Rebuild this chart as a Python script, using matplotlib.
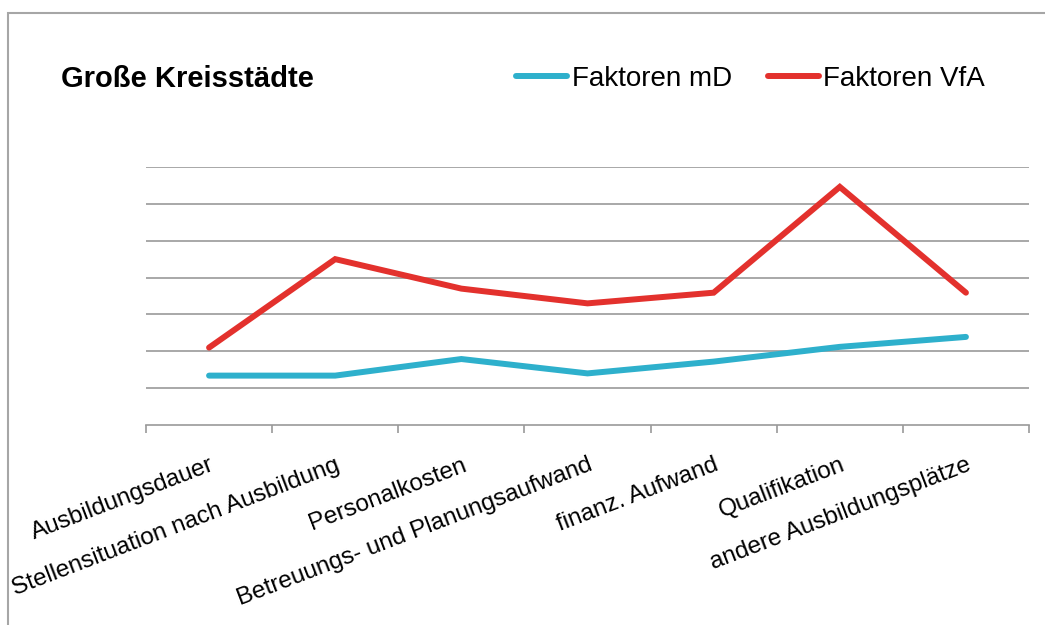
import matplotlib.pyplot as plt
from matplotlib.patches import Rectangle

plt.rcParams['font.family'] = ['Liberation Sans', 'DejaVu Sans']

# Kategorien und Werte der beiden Faktorreihen
kategorien = ['Ausbildungsdauer', 'Stellensituation nach Ausbildung', 'Personalkosten',
              'Betreuungs- und Planungsaufwand', 'finanz. Aufwand', 'Qualifikation',
              'andere Ausbildungsplätze']
faktoren_md = [1.34, 1.34, 1.79, 1.40, 1.72, 2.12, 2.39]
faktoren_vfa = [2.10, 4.50, 3.70, 3.30, 3.59, 6.46, 3.59]

blau = '#2EB0CC'
rot = '#E3312D'
grau = '#9A9A9A'

fig = plt.figure(figsize=(10.45, 6.25), dpi=100)

# Rahmen um das Diagramm (nur oben und links sichtbar)
fig.patches.append(Rectangle((8 / 1045, -0.1), 1.2, 1.1 - 13 / 625, transform=fig.transFigure,
                             fill=False, edgecolor='#A6A6A6', linewidth=1.5))

ax = fig.add_axes([146 / 1045, 1 - 425 / 625, (1029 - 146) / 1045, (425 - 167) / 625])

x = range(len(kategorien))
ax.plot(x, faktoren_md, color=blau, linewidth=4.3, solid_capstyle='round',
        solid_joinstyle='miter', label='Faktoren mD', zorder=3)
ax.plot(x, faktoren_vfa, color=rot, linewidth=4.3, solid_capstyle='round',
        solid_joinstyle='miter', label='Faktoren VfA', zorder=3)

ax.set_xlim(-0.5, len(kategorien) - 0.5)
ax.set_ylim(0, 7)

# horizontale Gitterlinien ohne Beschriftung
ax.set_yticks(range(1, 8))
ax.set_yticklabels([])
ax.tick_params(axis='y', length=0)
ax.grid(True, axis='y', color=grau, linewidth=1.2)
ax.set_axisbelow(True)

# Teilstriche an den Kategoriegrenzen, Beschriftung in der Mitte
ax.set_xticks([i - 0.5 for i in range(len(kategorien) + 1)])
ax.set_xticklabels([])
ax.tick_params(axis='x', which='major', length=6, width=1.2, color=grau, direction='out')
ax.set_xticks(list(x), minor=True)
ax.set_xticklabels(kategorien, minor=True, rotation=21, ha='right', va='top',
                   rotation_mode='anchor', fontsize=17.5)
ax.tick_params(axis='x', which='minor', length=0, pad=21)

for side in ['left', 'right', 'top']:
    ax.spines[side].set_visible(False)
ax.spines['bottom'].set_color(grau)
ax.spines['bottom'].set_linewidth(1.2)

fig.text(61 / 1045, 1 - 87 / 625, 'Große Kreisstädte', fontsize=21, fontweight='bold',
         va='baseline', ha='left')

fig.legend(loc='center left', bbox_to_anchor=(516 / 1045, 1 - 79 / 625), ncol=2,
           frameon=False, fontsize=20, handlelength=1.85, handletextpad=0.15,
           columnspacing=1.3, borderpad=0, borderaxespad=0)

fig.savefig('out.png', dpi=100)
